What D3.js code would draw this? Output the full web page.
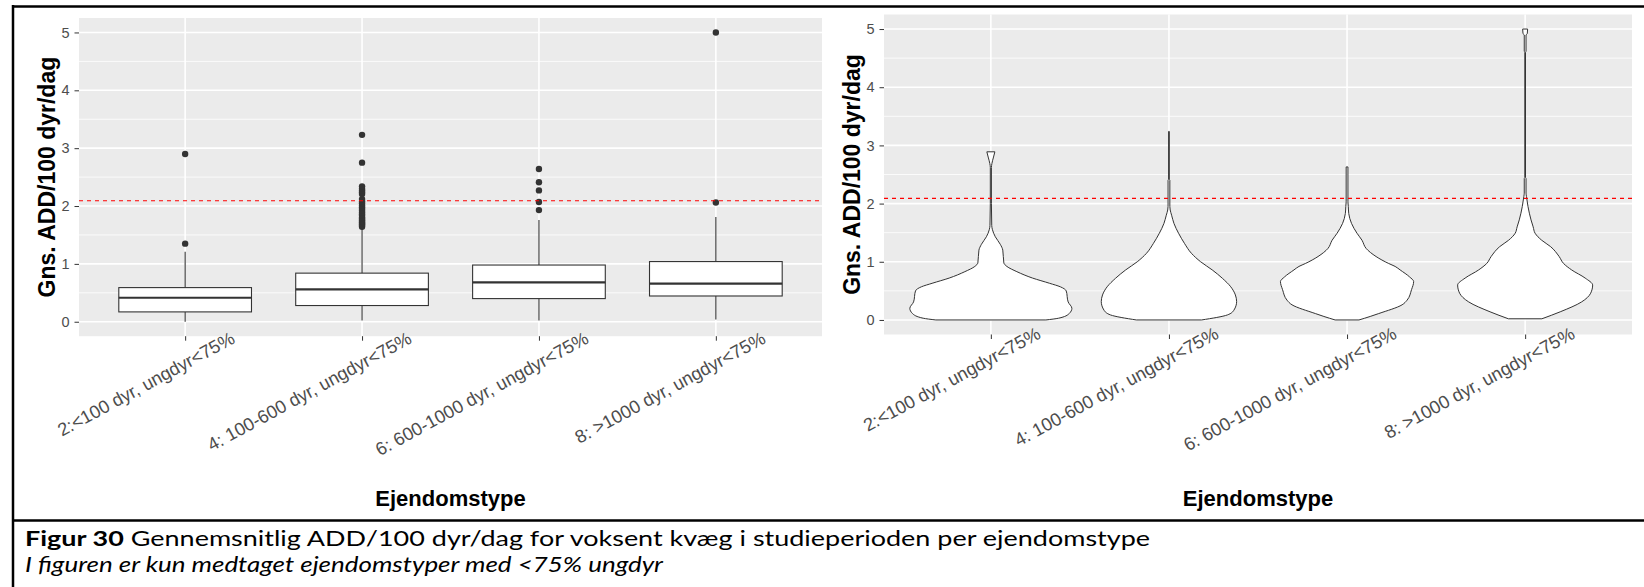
<!DOCTYPE html>
<html>
<head>
<meta charset="utf-8">
<script src="https://cdn.jsdelivr.net/npm/d3@7"></script>
<style>
  body { margin: 0; background: #fff; }
  svg { display: block; }
</style>
</head>
<body>
<div class="chart"></div>
<script>
// categories and values
let categories = ['2:<100 dyr, ungdyr<75%', '4: 100-600 dyr, ungdyr<75%', '6: 600-1000 dyr, ungdyr<75%', '8: >1000 dyr, ungdyr<75%'];
let yTicks = [0, 1, 2, 3, 4, 5];
let refValue = 2.09;

// boxplot stats per category
let boxLower = [0.17, 0.28, 0.40, 0.445];
let boxMedian = [0.415, 0.56, 0.68, 0.66];
let boxUpper = [0.59, 0.84, 0.98, 1.04];
let whiskerLow = [0.0, 0.02, 0.02, 0.04];
let whiskerHigh = [1.21, 1.63, 1.76, 1.81];

let outliers1 = [1.35, 2.9];
let outliers2 = [1.64, 1.66, 1.68, 1.70, 1.72, 1.74, 1.76, 1.78, 1.80, 1.83, 1.86, 1.89, 1.92, 1.95, 1.98, 2.01, 2.05, 2.08, 2.12, 2.21, 2.24, 2.27, 2.30, 2.34, 2.75, 3.23];
let outliers3 = [1.93, 2.07, 2.27, 2.41, 2.64];
let outliers4 = [2.06, 5.0];

// violin outlines: [value, half width in category units]
let violin1 = [[0, 0.309], [0.03, 0.38], [0.11, 0.44], [0.2, 0.455], [0.31, 0.434], [0.5, 0.423], [0.57, 0.39], [0.63, 0.33], [0.72, 0.234], [0.83, 0.146], [0.92, 0.09], [0.98, 0.073], [1.2, 0.067], [1.3, 0.053], [1.43, 0.025], [1.55, 0.009], [1.62, 0.005], [2.0, 0.003], [2.62, 0.003], [2.69, 0.006], [2.8, 0.015], [2.89, 0.0225]];
let violin2 = [[0, 0.183], [0.086, 0.328], [0.17, 0.365], [0.315, 0.38], [0.43, 0.373], [0.57, 0.347], [0.716, 0.3], [0.86, 0.243], [1.0, 0.178], [1.146, 0.126], [1.317, 0.087], [1.49, 0.054], [1.66, 0.028], [1.8, 0.015], [1.89, 0.007], [1.95, 0.005], [2.4, 0.005], [2.42, 0.002], [3.24, 0.002]];
let violin3 = [[0, 0.067], [0.06, 0.13], [0.11, 0.178], [0.26, 0.309], [0.34, 0.337], [0.52, 0.362], [0.66, 0.374], [0.74, 0.351], [0.86, 0.298], [0.92, 0.27], [0.97, 0.234], [1.09, 0.163], [1.23, 0.107], [1.37, 0.084], [1.49, 0.056], [1.66, 0.025], [1.83, 0.0095], [1.95, 0.007], [2.03, 0.005], [2.63, 0.005]];
let violin4 = [[0.02, 0.094], [0.14, 0.197], [0.31, 0.317], [0.46, 0.368], [0.6, 0.379], [0.72, 0.337], [0.86, 0.261], [0.97, 0.216], [1.09, 0.191], [1.26, 0.143], [1.37, 0.093], [1.49, 0.056], [1.6, 0.045], [1.72, 0.033], [1.95, 0.016], [2.12, 0.0073], [2.18, 0.005], [2.43, 0.005], [2.45, 0.002], [4.6, 0.002], [4.62, 0.005], [4.9, 0.005], [4.92, 0.012], [5.0, 0.014]];

let xTitle = 'Ejendomstype';
let yTitle = 'Gns. ADD/100 dyr/dag';
let captionBold = 'Figur 30';
let captionText = ' Gennemsnitlig ADD/100 dyr/dag for voksent kvæg i studieperioden per ejendomstype';
let captionNote = 'I figuren er kun medtaget ejendomstyper med <75% ungdyr';

let fullWidth = 1644;
let fullHeight = 587;

let svg = d3.select('.chart')
	.append('svg')
	.attr('width', fullWidth)
	.attr('height', fullHeight);

// panel frames (left = boxplot, right = violin)
let panels = [
	{left: 79, right: 822, top: 18, bottom: 336.2, labelDy: 6, ytitleX: 55},
	{left: 884, right: 1632, top: 14.5, bottom: 334.5, labelDy: 3, ytitleX: 860}
];

function drawPanel(p) {
	let x = d3.scaleLinear().domain([-0.6, 3.6]).range([p.left, p.right]);
	let y = d3.scaleLinear().domain([-0.25, 5.25]).range([p.bottom, p.top]);
	let g = svg.append('g');

	g.append('rect')
		.attr('x', p.left).attr('y', p.top)
		.attr('width', p.right - p.left).attr('height', p.bottom - p.top)
		.style('fill', '#EBEBEB');

	// minor + major grid
	let minor = d3.range(-0.5, 5.6, 1).filter(v => v > -0.25 && v < 5.25);
	g.selectAll('.minor')
		.data(minor).enter().append('line')
		.attr('x1', p.left).attr('x2', p.right)
		.attr('y1', d => y(d)).attr('y2', d => y(d))
		.style('stroke', '#fff').style('stroke-width', 0.8);
	g.selectAll('.hmajor')
		.data(yTicks).enter().append('line')
		.attr('x1', p.left).attr('x2', p.right)
		.attr('y1', d => y(d)).attr('y2', d => y(d))
		.style('stroke', '#fff').style('stroke-width', 1.6);
	g.selectAll('.vmajor')
		.data(categories).enter().append('line')
		.attr('x1', (d, i) => x(i)).attr('x2', (d, i) => x(i))
		.attr('y1', p.top).attr('y2', p.bottom)
		.style('stroke', '#fff').style('stroke-width', 1.6);

	// axes
	let yAxis = d3.axisLeft(y).tickValues(yTicks).tickSize(4.5).tickPadding(5).tickFormat(d3.format('d'));
	let ya = g.append('g')
		.attr('transform', 'translate(' + p.left + ',0)')
		.call(yAxis);
	ya.select('.domain').remove();
	ya.selectAll('line').style('stroke', '#333333').style('stroke-width', 1);
	ya.selectAll('text')
		.style('font-family', 'Liberation Sans, Arial, sans-serif')
		.style('font-size', '14.5px')
		.style('fill', '#4D4D4D');

	let xAxis = d3.axisBottom(x).tickValues([0, 1, 2, 3]).tickSize(4.5).tickFormat('');
	let xa = g.append('g')
		.attr('transform', 'translate(0,' + p.bottom + ')')
		.call(xAxis);
	xa.select('.domain').remove();
	xa.selectAll('line').style('stroke', '#333333').style('stroke-width', 1);

	g.selectAll('.xlab')
		.data(categories).enter().append('text')
		.attr('transform', (d, i) => 'translate(' + (x(i) + 51) + ',' + (p.bottom + p.labelDy) + ') rotate(-28.5)')
		.attr('text-anchor', 'end')
		.style('font-family', 'Liberation Sans, Arial, sans-serif')
		.style('font-size', '18.2px')
		.style('fill', '#4D4D4D')
		.text(d => d);

	// titles
	g.append('text')
		.attr('x', (p.left + p.right) / 2)
		.attr('y', 506)
		.attr('text-anchor', 'middle')
		.style('font-family', 'Liberation Sans, Arial, sans-serif')
		.style('font-weight', 'bold')
		.style('font-size', '22px')
		.text(xTitle);

	g.append('text')
		.attr('transform', 'translate(' + p.ytitleX + ',' + ((p.top + p.bottom) / 2) + ') rotate(-90)')
		.attr('text-anchor', 'middle')
		.style('font-family', 'Liberation Sans, Arial, sans-serif')
		.style('font-weight', 'bold')
		.style('font-size', '23px')
		.text(yTitle);

	return {g: g, x: x, y: y};
}

// ---- left: boxplot ----
let L = drawPanel(panels[0]);
let boxHalf = 0.375;
let outliers = [outliers1, outliers2, outliers3, outliers4];

categories.forEach((c, i) => {
	let bg = L.g.append('g');
	bg.append('line')
		.attr('x1', L.x(i)).attr('x2', L.x(i))
		.attr('y1', L.y(whiskerHigh[i])).attr('y2', L.y(boxUpper[i]))
		.style('stroke', '#333333').style('stroke-width', 1.1);
	bg.append('line')
		.attr('x1', L.x(i)).attr('x2', L.x(i))
		.attr('y1', L.y(boxLower[i])).attr('y2', L.y(whiskerLow[i]))
		.style('stroke', '#333333').style('stroke-width', 1.1);
	bg.append('rect')
		.attr('x', L.x(i - boxHalf))
		.attr('y', L.y(boxUpper[i]))
		.attr('width', L.x(i + boxHalf) - L.x(i - boxHalf))
		.attr('height', L.y(boxLower[i]) - L.y(boxUpper[i]))
		.style('fill', '#fff').style('stroke', '#333333').style('stroke-width', 1.1);
	bg.append('line')
		.attr('x1', L.x(i - boxHalf)).attr('x2', L.x(i + boxHalf))
		.attr('y1', L.y(boxMedian[i])).attr('y2', L.y(boxMedian[i]))
		.style('stroke', '#333333').style('stroke-width', 2.2);
	bg.selectAll('circle')
		.data(outliers[i]).enter().append('circle')
		.attr('cx', L.x(i))
		.attr('cy', d => L.y(d))
		.attr('r', 3.2)
		.style('fill', '#333333');
});

L.g.append('line')
	.attr('x1', panels[0].left).attr('x2', panels[0].right)
	.attr('y1', L.y(refValue)).attr('y2', L.y(refValue))
	.style('stroke', '#FF0000').style('stroke-width', 1.1)
	.style('stroke-dasharray', '4,4');

// ---- right: violin ----
let R = drawPanel(panels[1]);
let violins = [violin1, violin2, violin3, violin4];

violins.forEach((v, i) => {
	let area = d3.area()
		.curve(d3.curveMonotoneY)
		.y(d => R.y(d[0]))
		.x0(d => R.x(i - d[1]))
		.x1(d => R.x(i + d[1]));
	R.g.append('path')
		.attr('d', area(v))
		.style('fill', '#fff')
		.style('stroke', '#333333')
		.style('stroke-width', 1);
});

R.g.append('line')
	.attr('x1', panels[1].left).attr('x2', panels[1].right)
	.attr('y1', R.y(refValue)).attr('y2', R.y(refValue))
	.style('stroke', '#FF0000').style('stroke-width', 1.1)
	.style('stroke-dasharray', '4,4');

// ---- table borders + caption ----
svg.append('line').attr('x1', 12).attr('x2', 1644).attr('y1', 6.5).attr('y2', 6.5)
	.style('stroke', '#000').style('stroke-width', 2.5);
svg.append('line').attr('x1', 13).attr('x2', 13).attr('y1', 5).attr('y2', 587)
	.style('stroke', '#000').style('stroke-width', 2.5);
svg.append('line').attr('x1', 12).attr('x2', 1644).attr('y1', 520.5).attr('y2', 520.5)
	.style('stroke', '#000').style('stroke-width', 2.5);

// caption lines, stretched to the widths seen in the figure
let cap = svg.append('text')
	.attr('x', 25).attr('y', 546)
	.attr('textLength', 1125)
	.attr('lengthAdjust', 'spacingAndGlyphs')
	.style('font-family', 'Lato, Carlito, sans-serif')
	.style('font-size', '21.5px')
	.style('fill', '#000');
cap.append('tspan').style('font-weight', 'bold').text(captionBold);
cap.append('tspan').text(captionText);

svg.append('text')
	.attr('x', 25).attr('y', 572)
	.attr('textLength', 638)
	.attr('lengthAdjust', 'spacingAndGlyphs')
	.style('font-family', 'Lato, Carlito, sans-serif')
	.style('font-style', 'italic')
	.style('font-size', '21.5px')
	.style('fill', '#000')
	.text(captionNote);
</script>
</body>
</html>
